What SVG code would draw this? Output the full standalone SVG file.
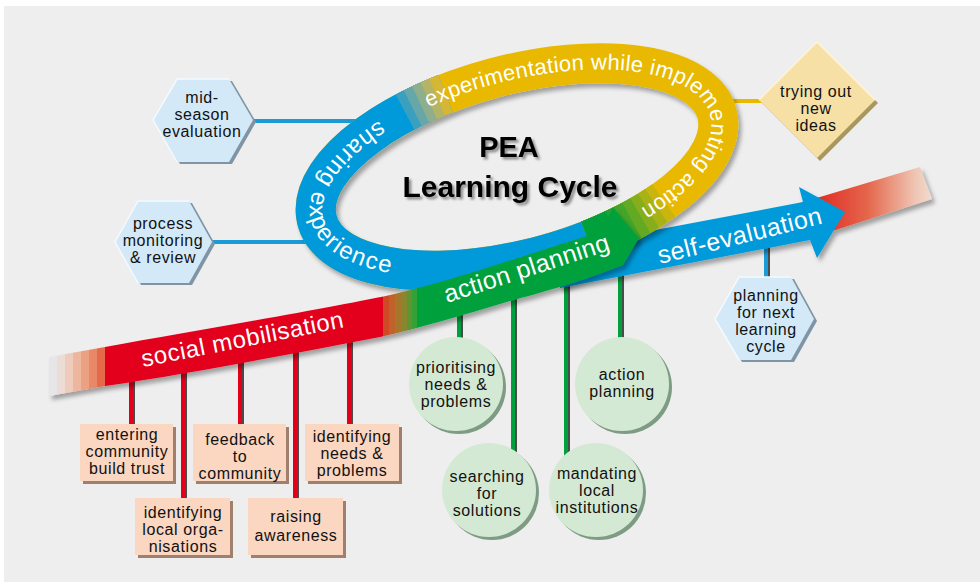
<svg xmlns="http://www.w3.org/2000/svg" width="980" height="584" viewBox="0 0 980 584">
<style>
.t{font-family:"Liberation Sans",Arial,sans-serif;font-size:16px;letter-spacing:0.6px;fill:#111;text-anchor:middle}
.w{font-family:"Liberation Sans",Arial,sans-serif;fill:#fff}
.rl{fill:none;stroke-width:40}
.hx{fill:#d3e9f8}
.hxs{fill:#7f95a6}
.hl{fill:none;stroke:#f4faff;stroke-width:1.5}
.bx{fill:#fbd6c0}
.bxs{fill:#a0806c}
.ci{fill:#d4e9d4}
.cis{fill:#7e9c83}
.lr{stroke:#e2001a;stroke-width:4}
.lg{stroke:#00a03c;stroke-width:4}
.lb{stroke:#1b9ad7;stroke-width:4}
.ly{stroke:#e8b900;stroke-width:4}
.ls{stroke:#4b4b4b;stroke-width:2}
</style>
<defs>
<linearGradient id="rib" gradientUnits="userSpaceOnUse" x1="49" y1="0" x2="650" y2="0">
<stop offset="0" stop-color="#e6e6e8"/><stop offset="0.0133" stop-color="#e6e6e8"/>
<stop offset="0.0133" stop-color="#ecdcd6"/><stop offset="0.0266" stop-color="#ecdcd6"/>
<stop offset="0.0266" stop-color="#eecbbb"/><stop offset="0.0399" stop-color="#eecbbb"/>
<stop offset="0.0399" stop-color="#edb79f"/><stop offset="0.0532" stop-color="#edb79f"/>
<stop offset="0.0532" stop-color="#eba182"/><stop offset="0.0666" stop-color="#eba182"/>
<stop offset="0.0666" stop-color="#e88866"/><stop offset="0.0799" stop-color="#e88866"/>
<stop offset="0.0799" stop-color="#e46a48"/><stop offset="0.0932" stop-color="#e46a48"/>
<stop offset="0.0932" stop-color="#e2001a"/><stop offset="0.5557" stop-color="#e2001a"/>
<stop offset="0.5557" stop-color="#cf4a26"/><stop offset="0.5657" stop-color="#cf4a26"/>
<stop offset="0.5657" stop-color="#c0622a"/><stop offset="0.5757" stop-color="#c0622a"/>
<stop offset="0.5757" stop-color="#a6762c"/><stop offset="0.5857" stop-color="#a6762c"/>
<stop offset="0.5857" stop-color="#88862e"/><stop offset="0.5957" stop-color="#88862e"/>
<stop offset="0.5957" stop-color="#5e9430"/><stop offset="0.604" stop-color="#5e9430"/>
<stop offset="0.604" stop-color="#34a034"/><stop offset="0.6123" stop-color="#34a034"/>
<stop offset="0.6123" stop-color="#00a03c"/><stop offset="1" stop-color="#00a03c"/>
</linearGradient>
<linearGradient id="tail" gradientUnits="userSpaceOnUse" x1="815" y1="0" x2="932" y2="0">
<stop offset="0" stop-color="#df2a22"/><stop offset="0.45" stop-color="#e5664c"/><stop offset="0.85" stop-color="#efc4b2"/><stop offset="1" stop-color="#f1dccf"/>
</linearGradient>
<filter id="ds" x="-10%" y="-20%" width="125%" height="150%"><feDropShadow dx="3" dy="4" stdDeviation="2" flood-color="#000" flood-opacity="0.33"/></filter>
<filter id="ts" x="-10%" y="-20%" width="125%" height="150%"><feDropShadow dx="2.5" dy="2.5" stdDeviation="1.2" flood-color="#000" flood-opacity="0.4"/></filter>
<path id="ringTop" d="M-72.0,-80.3 A201 86 0 0 1 84.9,77.9"/>
<path id="ringLeft" d="M-119.1,-81.2 A213 98 0 0 0 -131.1,77.2"/>
</defs>

<rect x="0" y="0" width="980" height="584" fill="#ffffff"/>
<rect x="4" y="6" width="976" height="576" fill="#eeeeee"/>

<g id="connectors" fill="none">
<line class="ls" x1="134" y1="370" x2="134" y2="424"/><line class="lr" x1="131" y1="370" x2="131" y2="424"/>
<line class="ls" x1="186" y1="360" x2="186" y2="498"/><line class="lr" x1="183" y1="360" x2="183" y2="498"/>
<line class="ls" x1="243" y1="350" x2="243" y2="424"/><line class="lr" x1="240" y1="350" x2="240" y2="424"/>
<line class="ls" x1="298" y1="340" x2="298" y2="498"/><line class="lr" x1="295" y1="340" x2="295" y2="498"/>
<line class="ls" x1="352" y1="330" x2="352" y2="424"/><line class="lr" x1="349" y1="330" x2="349" y2="424"/>
<line class="ls" x1="462" y1="305" x2="462" y2="340"/><line class="lg" x1="459" y1="305" x2="459" y2="340"/>
<line class="ls" x1="516" y1="290" x2="516" y2="452"/><line class="lg" x1="513" y1="290" x2="513" y2="452"/>
<line class="ls" x1="569" y1="275" x2="569" y2="456"/><line class="lg" x1="566" y1="275" x2="566" y2="456"/>
<line class="ls" x1="623" y1="255" x2="623" y2="340"/><line class="lg" x1="620" y1="255" x2="620" y2="340"/>
<line class="ls" x1="769" y1="245" x2="769" y2="279"/><line class="lb" x1="766" y1="245" x2="766" y2="279"/>
<line class="lb" x1="250" y1="121" x2="365" y2="121"/>
<line class="lb" x1="210" y1="242" x2="322" y2="242"/>
<line class="ly" x1="720" y1="101" x2="762" y2="101"/>
</g>

<g id="arrow" filter="url(#ds)">
<polygon fill="url(#tail)" points="800,203 920,167 932,199 820,235"/>
<polygon fill="#0099d9" points="560,248 803,202 799,187 845,212 817,258 810,240 560,288"/>
</g>

<g id="cycle" filter="url(#ds)">
<g transform="translate(517,167) rotate(-15)">
<ellipse class="rl" rx="207" ry="92" stroke="#e8b900"/>
<path class="rl" stroke="#0099d9" d="M50.08,89.27 A207 92 0 0 1 -70.80,-86.45"/>
<path class="rl" stroke="#3aa0c0" d="M-93.98,-81.97 A207 92 0 0 1 -50.08,-89.27"/>
<path class="rl" stroke="#66a8aa" d="M-85.51,-83.78 A207 92 0 0 1 -50.08,-89.27"/>
<path class="rl" stroke="#8eae8c" d="M-76.88,-85.42 A207 92 0 0 1 -50.08,-89.27"/>
<path class="rl" stroke="#b4b466" d="M-68.08,-86.88 A207 92 0 0 1 -50.08,-89.27"/>
<path class="rl" stroke="#d6b634" d="M-59.14,-88.16 A207 92 0 0 1 -50.08,-89.27"/>
<path class="rl" stroke="#c9b50a" d="M133.06,70.48 A207 92 0 0 1 50.08,89.27"/>
<path class="rl" stroke="#a8b214" d="M124.57,73.47 A207 92 0 0 1 50.08,89.27"/>
<path class="rl" stroke="#86ae1c" d="M115.75,76.27 A207 92 0 0 1 50.08,89.27"/>
<path class="rl" stroke="#64aa24" d="M106.61,78.86 A207 92 0 0 1 50.08,89.27"/>
<path class="rl" stroke="#42a62c" d="M97.18,81.23 A207 92 0 0 1 50.08,89.27"/>
<path class="rl" stroke="#20a234" d="M87.48,83.38 A207 92 0 0 1 50.08,89.27"/>
<path class="rl" stroke="#00a03c" d="M77.54,85.30 A207 92 0 0 1 50.08,89.27"/>
</g>
</g>
<g id="cycle-labels" class="w" transform="translate(517,167) rotate(-15)">
<text font-size="22" letter-spacing="0.3"><textPath href="#ringTop" startOffset="2">experimentation while implementing action</textPath></text>
<text font-size="24" letter-spacing="1.5"><textPath href="#ringLeft" startOffset="2">sharing experience</textPath></text>
</g>

<g id="ribbon">
<path filter="url(#ds)" fill="url(#rib)" d="M49,357 L105,347 C200,330 330,308 390,295 C450,282 540,250 600,232 L613,208 L639,238 L623,265 C580,282 540,293 510,301 C460,316 420,328 380,337 C300,352 200,372 105,386 L49,396 Z"/>
<text class="w" font-size="24" letter-spacing="0.6" transform="translate(143,367) rotate(-11.2)">social mobilisation</text>
<text class="w" font-size="25" letter-spacing="0.3" transform="translate(447,303) rotate(-18)">action planning</text>
<text class="w" font-size="25" letter-spacing="0.5" transform="translate(660,264) rotate(-14)">self-evaluation</text>
</g>

<g id="title" filter="url(#ts)" font-family="Liberation Sans, Arial, sans-serif" font-weight="bold" fill="#000" text-anchor="middle">
<text x="509" y="157" font-size="29">PEA</text>
<text x="510" y="197" font-size="30">Learning Cycle</text>
</g>

<g id="n-mid-season-evaluation">
<polygon class="hxs" points="156,122 180,81 232,81 256,122 232,164 180,164"/>
<polygon class="hx" points="153,120 177,79 229,79 253,120 229,162 177,162"/>
<polyline class="hl" points="177,162 153,120 177,79 229,79"/>
<text class="t"><tspan x="202" y="103">mid-</tspan><tspan x="202" y="120">season</tspan><tspan x="202" y="137">evaluation</tspan></text>
</g>
<g id="n-process-monitoring">
<polygon class="hxs" points="118,244 141,203 192,203 215,244 192,285 141,285"/>
<polygon class="hx" points="115,242 138,201 189,201 212,242 189,283 138,283"/>
<polyline class="hl" points="138,283 115,242 138,201 189,201"/>
<text class="t"><tspan x="163" y="229">process</tspan><tspan x="163" y="246">monitoring</tspan><tspan x="163" y="263">&amp; review</tspan></text>
</g>
<g id="n-trying-out">
<polygon fill="#a89860" points="820,45 878,103 820,161 762,103"/>
<polygon fill="#f6e0a6" points="817,42 875,100 817,158 759,100"/>
<polyline fill="none" stroke="#fff4d2" stroke-width="1.5" points="759,100 817,42 875,100"/>
<text class="t"><tspan x="816" y="97">trying out</tspan><tspan x="816" y="114">new</tspan><tspan x="816" y="131">ideas</tspan></text>
</g>
<g id="n-planning-next">
<polygon class="hxs" points="718,321 742,279 794,279 817,321 794,362 742,362"/>
<polygon class="hx" points="715,319 739,277 791,277 814,319 791,360 739,360"/>
<polyline class="hl" points="739,360 715,319 739,277 791,277"/>
<text class="t"><tspan x="766" y="301">planning</tspan><tspan x="766" y="318">for next</tspan><tspan x="766" y="335">learning</tspan><tspan x="766" y="352">cycle</tspan></text>
</g>

<g id="n-entering">
<rect class="bxs" x="83" y="427" width="93" height="57"/>
<rect class="bx" x="80" y="424" width="93" height="57"/>
<text class="t"><tspan x="127" y="440">entering</tspan><tspan x="127" y="457">community</tspan><tspan x="127" y="474">build trust</tspan></text>
</g>
<g id="n-feedback">
<rect class="bxs" x="196" y="427" width="93" height="57"/>
<rect class="bx" x="193" y="424" width="93" height="57"/>
<text class="t"><tspan x="240" y="445">feedback</tspan><tspan x="240" y="462">to</tspan><tspan x="240" y="479">community</tspan></text>
</g>
<g id="n-identifying-needs">
<rect class="bxs" x="308" y="427" width="94" height="57"/>
<rect class="bx" x="305" y="424" width="94" height="57"/>
<text class="t"><tspan x="352" y="442">identifying</tspan><tspan x="352" y="459">needs &amp;</tspan><tspan x="352" y="476">problems</tspan></text>
</g>
<g id="n-identifying-local">
<rect class="bxs" x="138" y="501" width="95" height="57"/>
<rect class="bx" x="135" y="498" width="95" height="57"/>
<text class="t"><tspan x="183" y="518">identifying</tspan><tspan x="183" y="535">local orga-</tspan><tspan x="183" y="552">nisations</tspan></text>
</g>
<g id="n-raising">
<rect class="bxs" x="251" y="501" width="95" height="57"/>
<rect class="bx" x="248" y="498" width="95" height="57"/>
<text class="t"><tspan x="296" y="522">raising</tspan><tspan x="296" y="541">awareness</tspan></text>
</g>

<g id="n-prioritising">
<circle class="cis" cx="459" cy="387" r="47"/>
<circle class="ci" cx="456" cy="384" r="47"/>
<text class="t"><tspan x="456" y="373">prioritising</tspan><tspan x="456" y="390">needs &amp;</tspan><tspan x="456" y="407">problems</tspan></text>
</g>
<g id="n-searching">
<circle class="cis" cx="492" cy="493" r="47"/>
<circle class="ci" cx="489" cy="490" r="47"/>
<text class="t"><tspan x="487" y="482">searching</tspan><tspan x="487" y="499">for</tspan><tspan x="487" y="516">solutions</tspan></text>
</g>
<g id="n-mandating">
<circle class="cis" cx="599" cy="493" r="47"/>
<circle class="ci" cx="596" cy="490" r="47"/>
<text class="t"><tspan x="597" y="479">mandating</tspan><tspan x="597" y="496">local</tspan><tspan x="597" y="513">institutions</tspan></text>
</g>
<g id="n-action-planning">
<circle class="cis" cx="625" cy="387" r="47"/>
<circle class="ci" cx="622" cy="384" r="47"/>
<text class="t"><tspan x="622" y="380">action</tspan><tspan x="622" y="397">planning</tspan></text>
</g>
</svg>
